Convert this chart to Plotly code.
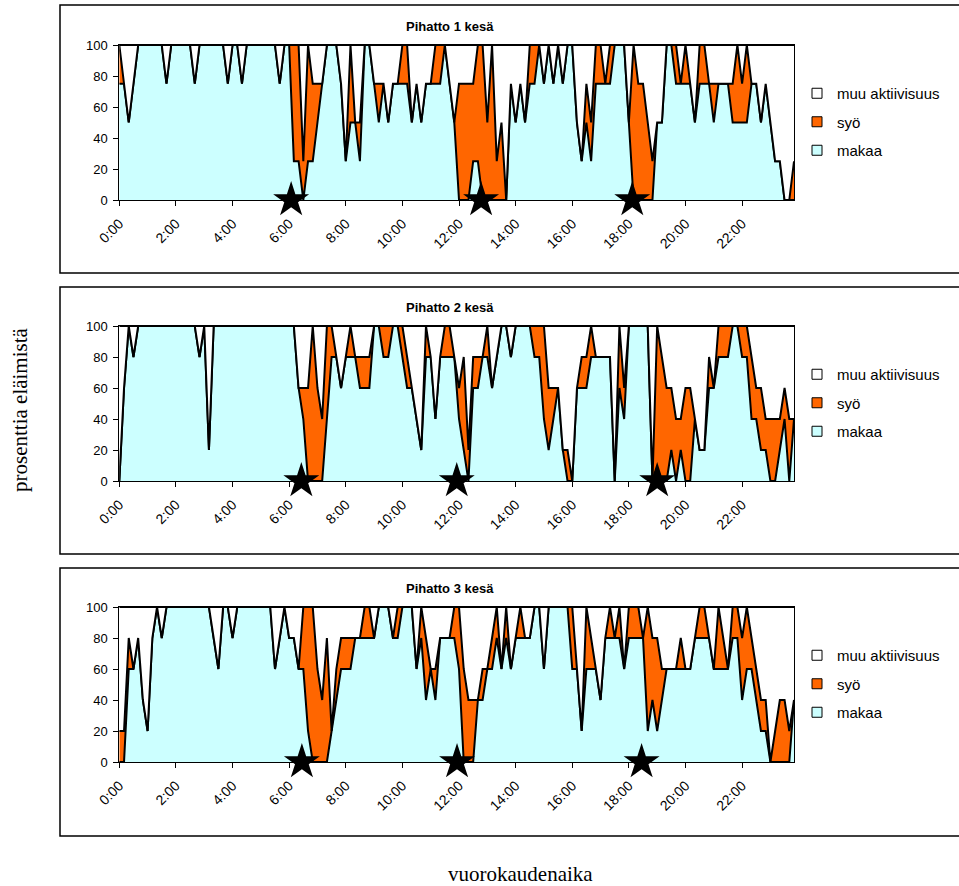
import plotly.graph_objects as go

W, H = 959, 886

# time of day (hours) for 10-minute samples
hours = [i / 6 for i in range(144)]
tick_vals = list(range(0, 24, 2))
tick_text = [f"{h}:00" for h in tick_vals]

series_names = ["makaa", "syö", "muu aktiivisuus"]
titles = ["Pihatto 1 kesä", "Pihatto 2 kesä", "Pihatto 3 kesä"]

# ---- Pihatto 1 (4 animals -> steps of 25 %) ----
makaa1 = [75, 75, 50, 75, 100, 100, 100, 100, 100, 100, 75, 100,
          100, 100, 100, 100, 75, 100, 100, 100, 100, 100, 100, 75,
          100, 100, 75, 100, 100, 100, 100, 100, 100, 100, 75, 100,
          100, 25, 25, 0, 25, 25, 50, 75, 100, 100, 100, 75,
          25, 50, 50, 25, 100, 100, 75, 50, 75, 50, 75, 75,
          75, 75, 50, 75, 50, 75, 75, 75, 75, 100, 75, 50,
          0, 0, 0, 25, 25, 0, 0, 0, 0, 0, 0, 75,
          50, 75, 50, 75, 75, 100, 75, 100, 75, 100, 75, 100,
          100, 50, 25, 50, 25, 75, 75, 75, 75, 100, 100, 100,
          50, 0, 0, 0, 0, 0, 50, 50, 100, 100, 75, 75,
          75, 75, 50, 75, 75, 75, 50, 75, 75, 75, 50, 50,
          50, 50, 75, 75, 50, 75, 50, 25, 25, 0, 0, 0]
syo1 = [25, 0, 0, 0, 0, 0, 0, 0, 0, 0, 0, 0,
        0, 0, 0, 0, 0, 0, 0, 0, 0, 0, 0, 0,
        0, 0, 0, 0, 0, 0, 0, 0, 0, 0, 0, 0,
        0, 75, 75, 25, 75, 50, 25, 0, 0, 0, 0, 0,
        0, 50, 0, 25, 0, 0, 0, 25, 0, 0, 0, 0,
        25, 25, 0, 0, 0, 0, 0, 25, 25, 0, 0, 0,
        75, 75, 75, 50, 75, 100, 50, 100, 25, 50, 0, 0,
        0, 0, 0, 25, 25, 0, 0, 0, 0, 0, 0, 0,
        0, 0, 0, 25, 25, 25, 25, 0, 25, 0, 0, 0,
        0, 100, 75, 75, 50, 25, 0, 0, 0, 0, 25, 0,
        25, 0, 0, 25, 25, 0, 25, 0, 0, 0, 25, 50,
        25, 50, 0, 0, 0, 0, 0, 0, 0, 0, 0, 25]

# ---- Pihatto 2 (5 animals -> steps of 20 %) ----
makaa2 = [0, 60, 100, 80, 100, 100, 100, 100, 100, 100, 100, 100,
          100, 100, 100, 100, 100, 80, 100, 20, 100, 100, 100, 100,
          100, 100, 100, 100, 100, 100, 100, 100, 100, 100, 100, 100,
          100, 100, 60, 40, 0, 0, 0, 0, 40, 80, 80, 60,
          80, 80, 80, 60, 60, 60, 100, 100, 80, 80, 100, 100,
          80, 60, 60, 40, 20, 80, 80, 40, 80, 80, 80, 80,
          40, 20, 0, 60, 60, 80, 80, 60, 80, 100, 100, 80,
          100, 100, 100, 100, 80, 80, 40, 20, 40, 60, 20, 0,
          0, 60, 60, 60, 80, 80, 80, 80, 80, 0, 60, 40,
          100, 100, 100, 100, 100, 0, 0, 0, 0, 20, 0, 20,
          0, 0, 40, 20, 20, 60, 60, 80, 80, 80, 100, 100,
          80, 80, 40, 40, 20, 20, 0, 0, 20, 40, 0, 40]
syo2 = [0, 0, 0, 0, 0, 0, 0, 0, 0, 0, 0, 0,
        0, 0, 0, 0, 0, 0, 0, 0, 0, 0, 0, 0,
        0, 0, 0, 0, 0, 0, 0, 0, 0, 0, 0, 0,
        0, 0, 0, 20, 60, 100, 60, 40, 60, 20, 0, 0,
        0, 20, 0, 20, 20, 20, 0, 0, 20, 20, 0, 0,
        20, 20, 0, 0, 0, 20, 0, 0, 0, 20, 20, 0,
        20, 60, 20, 20, 20, 0, 20, 0, 0, 0, 0, 0,
        0, 0, 0, 0, 20, 20, 60, 40, 20, 0, 0, 20,
        0, 0, 20, 20, 20, 0, 0, 0, 0, 0, 40, 20,
        0, 0, 0, 0, 0, 0, 100, 80, 60, 40, 40, 20,
        60, 60, 0, 0, 0, 20, 0, 20, 20, 20, 0, 0,
        20, 20, 40, 20, 40, 20, 40, 40, 20, 20, 40, 0]

# ---- Pihatto 3 (5 animals -> steps of 20 %) ----
makaa3 = [0, 0, 60, 60, 80, 40, 20, 80, 100, 80, 100, 100,
          100, 100, 100, 100, 100, 100, 100, 100, 80, 60, 100, 100,
          80, 100, 100, 100, 100, 100, 100, 100, 100, 60, 80, 100,
          80, 80, 60, 60, 20, 0, 0, 0, 0, 20, 40, 60,
          60, 60, 80, 80, 80, 80, 80, 100, 100, 100, 80, 80,
          100, 100, 100, 60, 80, 40, 60, 40, 80, 80, 80, 80,
          60, 0, 0, 0, 40, 40, 60, 60, 80, 60, 80, 60,
          80, 80, 80, 80, 100, 100, 60, 100, 100, 100, 100, 100,
          60, 60, 20, 60, 60, 60, 40, 80, 80, 80, 80, 60,
          80, 80, 80, 80, 20, 40, 20, 40, 60, 60, 60, 60,
          60, 60, 80, 80, 80, 80, 60, 60, 60, 60, 80, 80,
          40, 60, 60, 40, 20, 20, 0, 0, 0, 0, 0, 40]
syo3 = [20, 20, 20, 0, 0, 0, 0, 0, 0, 0, 0, 0,
        0, 0, 0, 0, 0, 0, 0, 0, 0, 0, 0, 0,
        0, 0, 0, 0, 0, 0, 0, 0, 0, 0, 0, 0,
        0, 0, 0, 40, 80, 100, 60, 40, 80, 0, 20, 20,
        20, 20, 0, 0, 20, 20, 0, 0, 0, 0, 0, 20,
        0, 0, 0, 0, 20, 40, 0, 20, 0, 0, 0, 20,
        40, 60, 40, 40, 0, 20, 0, 20, 20, 0, 20, 0,
        0, 20, 0, 0, 0, 0, 0, 0, 0, 0, 0, 0,
        40, 0, 0, 40, 20, 0, 0, 0, 20, 0, 20, 0,
        20, 20, 20, 0, 80, 40, 60, 20, 0, 0, 0, 20,
        0, 0, 0, 20, 20, 0, 0, 40, 20, 0, 20, 20,
        40, 40, 20, 20, 20, 20, 0, 20, 40, 40, 20, 0]

# feeding times (hours) marked with stars
feed1 = [6.07, 12.78, 18.12]
feed2 = [6.43, 11.92, 19.0]
feed3 = [6.45, 11.93, 18.45]

panels = [(makaa1, syo1, feed1), (makaa2, syo2, feed2), (makaa3, syo3, feed3)]

fill_colors = {"makaa": "#CCFFFF", "syö": "#FF6600", "muu aktiivisuus": "#FFFFFF"}

# layout geometry in pixels
plot_left, plot_right = 119.3, 794.0
plot_tops = [45, 326, 607]
plot_h = 155
frame_tops = [5, 287, 568]
frame_bots = [273, 554, 836]
legend_tops = [77, 358, 639]
title_ys = [27, 308, 588]

fig = go.Figure()

for k, (mk, sy, feed) in enumerate(panels):
    n = "" if k == 0 else str(k + 1)
    xa, ya = "x" + n, "y" + n
    muu = [100 - a - b for a, b in zip(mk, sy)]
    for name, vals in zip(series_names, [mk, sy, muu]):
        fig.add_trace(go.Scatter(
            x=hours, y=vals, xaxis=xa, yaxis=ya, stackgroup="g" + str(k),
            mode="lines", line=dict(color="black", width=2),
            fillcolor=fill_colors[name], showlegend=False, hoverinfo="skip"))
    fig.add_trace(go.Scatter(
        x=feed, y=[0] * len(feed), xaxis=xa, yaxis=ya, mode="markers",
        marker=dict(symbol="star", size=27, color="black"),
        cliponaxis=False, showlegend=False, hoverinfo="skip"))
    lg = "legend" if k == 0 else "legend" + str(k + 1)
    for name in ["muu aktiivisuus", "syö", "makaa"]:
        fig.add_trace(go.Scatter(
            x=[None], y=[None], xaxis=xa, yaxis=ya, mode="markers", name=name,
            marker=dict(symbol="square", size=10, color=fill_colors[name],
                        line=dict(color="black", width=1)),
            legend=lg, legendgroup=f"{k}-{name}", showlegend=True))

    top = plot_tops[k]
    dom_y = [1 - (top + plot_h) / H, 1 - top / H]
    fig.layout["xaxis" + n] = dict(
        domain=[plot_left / W, plot_right / W], range=[0, 143 / 6],
        anchor=ya, tickvals=tick_vals, ticktext=tick_text, tickangle=-45,
        ticks="outside", ticklen=5, tickcolor="black", showline=True,
        linecolor="black", linewidth=1, mirror=True, showgrid=False,
        zeroline=False, automargin=False, ticklabelstandoff=4,
        tickfont=dict(family="Liberation Sans", size=14, color="black"))
    fig.layout["yaxis" + n] = dict(
        domain=dom_y, range=[0, 100], anchor=xa, tickvals=[0, 20, 40, 60, 80, 100],
        ticks="outside", ticklen=5, tickcolor="black", showline=True,
        linecolor="black", linewidth=1, mirror=True, showgrid=False,
        zeroline=False, automargin=False, ticklabelstandoff=3,
        tickfont=dict(family="Liberation Sans", size=13, color="black"))
    fig.layout[lg] = dict(
        x=797 / W, y=1 - legend_tops[k] / H, xanchor="left", yanchor="top",
        xref="container", yref="container",
        bgcolor="rgba(0,0,0,0)", tracegroupgap=6, itemsizing="trace",
        font=dict(family="Liberation Sans", size=15, color="black"))
    fig.add_shape(type="rect", xref="paper", yref="paper",
                  x0=60 / W, x1=1.01, y0=1 - frame_bots[k] / H, y1=1 - frame_tops[k] / H,
                  line=dict(color="black", width=1.5), fillcolor="rgba(0,0,0,0)", layer="below")
    fig.add_annotation(text="<b>" + titles[k] + "</b>", xref="paper", yref="paper",
                       x=450 / W, y=1 - title_ys[k] / H, showarrow=False,
                       xanchor="center", yanchor="middle",
                       font=dict(family="Liberation Sans", size=13, color="black"))

fig.add_annotation(text="prosenttia eläimistä", xref="paper", yref="paper",
                   x=20 / W, y=1 - 410 / H, textangle=-90, showarrow=False,
                   xanchor="center", yanchor="middle",
                   font=dict(family="Liberation Serif", size=21, color="black"))
fig.add_annotation(text="vuorokaudenaika", xref="paper", yref="paper",
                   x=520 / W, y=1 - 874 / H, showarrow=False,
                   xanchor="center", yanchor="middle",
                   font=dict(family="Liberation Serif", size=21, color="black"))

fig.update_layout(width=W, height=H, margin=dict(l=0, r=0, t=0, b=0, autoexpand=False),
                  paper_bgcolor="white", plot_bgcolor="white", hovermode=False)

fig.write_html("out.html", config={"displayModeBar": False},
               post_script="document.body.style.margin='0px';document.body.style.overflow='hidden';")
